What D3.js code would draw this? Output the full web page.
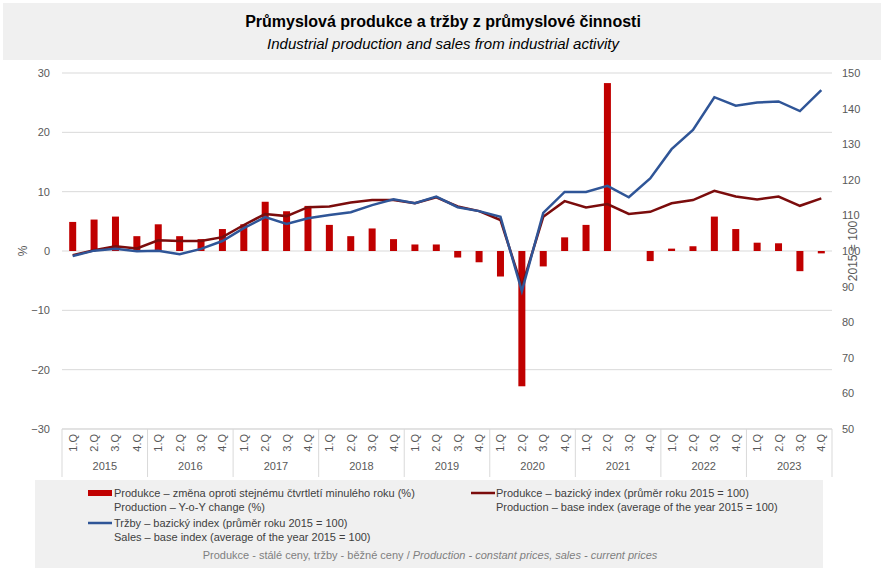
<!DOCTYPE html>
<html lang="cs">
<head>
  <meta charset="UTF-8">
  <title>Průmyslová produkce a tržby</title>
  <script src="https://d3js.org/d3.v7.min.js"></script>
  <style>
    body { margin: 0; background: #fff; font-family: "Liberation Sans", Arial, sans-serif; }
  </style>
</head>
<body>
  <svg id="chart" width="887" height="574"></svg>
  <script>
    const years = ["2015", "2016", "2017", "2018", "2019", "2020", "2021", "2022", "2023"]
    const quarters = ["1.Q", "2.Q", "3.Q", "4.Q"]
    const yoyChange = [4.9, 5.3, 5.8, 2.5, 4.5, 2.5, 2.0, 3.7,
      4.5, 8.3, 6.7, 7.6, 4.4, 2.5, 3.8, 2.0,
      1.1, 1.1, -1.1, -1.9, -4.3, -22.8, -2.6, 2.3,
      4.4, 28.3, 0, -1.7, 0.4, 0.8, 5.8, 3.7,
      1.4, 1.3, -3.4, -0.4]
    const prodIndex = [98.8, 100.2, 101.3, 100.7, 103.0, 102.8, 102.8, 103.9,
      107.3, 110.4, 109.8, 112.3, 112.5, 113.6, 114.3, 114.3,
      113.4, 115.1, 112.5, 111.2, 108.7, 90.0, 109.6, 114.0,
      112.2, 113.2, 110.4, 111.0, 113.4, 114.3, 116.9, 115.3,
      114.5, 115.3, 112.7, 114.8]
    const salesIndex = [98.6, 100.1, 100.6, 99.9, 100.1, 99.1, 100.6, 102.8,
      106.4, 109.5, 107.6, 109.2, 110.1, 110.9, 112.9, 114.5,
      113.4, 115.3, 112.3, 111.2, 109.6, 88.7, 110.7, 116.6,
      116.6, 118.3, 115.1, 120.4, 128.6, 134.0, 143.2, 140.8,
      141.7, 142.0, 139.3, 145.2]

    const cats = []
    years.forEach(y => quarters.forEach(q => cats.push(y + " " + q)))

    const svg = d3.select("#chart")
    const pLeft = 62, pRight = 832, pTop = 73, pBottom = 429

    // title box
    svg.append("rect").attr("x", 3).attr("y", 3).attr("width", 878).attr("height", 57).attr("fill", "#f0f0f0")
    svg.append("text").attr("x", 443).attr("y", 27).attr("text-anchor", "middle")
      .style("font-size", "16px").style("font-weight", "bold").text("Průmyslová produkce a tržby z průmyslové činnosti")
    svg.append("text").attr("x", 443).attr("y", 49).attr("text-anchor", "middle")
      .style("font-size", "15px").style("font-style", "italic").text("Industrial production and sales from industrial activity")

    const x = d3.scaleBand().domain(cats).range([pLeft, pRight])
    const yL = d3.scaleLinear().domain([-30, 30]).range([pBottom, pTop])
    const yR = d3.scaleLinear().domain([50, 150]).range([pBottom, pTop])

    // grid
    svg.append("g").selectAll("line").data(yL.ticks(6)).join("line")
      .attr("x1", pLeft).attr("x2", pRight).attr("y1", d => yL(d)).attr("y2", d => yL(d))
      .attr("stroke", "#d9d9d9").attr("stroke-width", 1)

    const axL = svg.append("g").attr("transform", "translate(" + pLeft + ",0)")
      .call(d3.axisLeft(yL).ticks(6).tickSize(0).tickPadding(12))
    axL.select(".domain").remove()
    axL.selectAll("text").style("font-size", "11px").attr("fill", "#595959").style("font-family", "Liberation Sans, Arial")

    const axR = svg.append("g").attr("transform", "translate(" + pRight + ",0)")
      .call(d3.axisRight(yR).ticks(10).tickSize(0).tickPadding(10))
    axR.select(".domain").remove()
    axR.selectAll("text").style("font-size", "11px").attr("fill", "#595959").style("font-family", "Liberation Sans, Arial")

    svg.append("text").attr("transform", "translate(27,251) rotate(-90)").attr("text-anchor", "middle")
      .style("font-size", "12px").attr("fill", "#595959").text("%")
    svg.append("text").attr("transform", "translate(857,251) rotate(-90)").attr("text-anchor", "middle")
      .style("font-size", "12px").attr("fill", "#595959").text("2015 = 100")

    // bars
    const bw = 7
    svg.append("g").selectAll("rect").data(yoyChange).join("rect")
      .attr("x", (d, i) => x(cats[i]) + x.bandwidth() / 2 - bw / 2)
      .attr("width", bw)
      .attr("y", d => yL(Math.max(0, d)))
      .attr("height", d => Math.abs(yL(d) - yL(0)))
      .attr("fill", "#c00000")

    const line = d3.line().x((d, i) => x(cats[i]) + x.bandwidth() / 2).y(d => yR(d))
    svg.append("path").datum(prodIndex).attr("fill", "none").attr("stroke", "#7b0c0c")
      .attr("stroke-width", 2.5).attr("d", line)
    svg.append("path").datum(salesIndex).attr("fill", "none").attr("stroke", "#2f5597")
      .attr("stroke-width", 2.5).attr("d", line)

    // category axis
    const cat = svg.append("g")
    cat.append("line").attr("x1", pLeft).attr("x2", pRight).attr("y1", pBottom).attr("y2", pBottom).attr("stroke", "#d9d9d9")
    cat.selectAll(".q").data(cats).join("text")
      .attr("transform", d => "translate(" + (x(d) + x.bandwidth() / 2 + 4) + "," + (pBottom + 5) + ") rotate(-90)")
      .attr("text-anchor", "end").style("font-size", "11px").attr("fill", "#595959")
      .text(d => d.split(" ")[1])
    const yearW = x.bandwidth() * 4
    cat.selectAll(".y").data(years).join("text")
      .attr("x", (d, i) => pLeft + yearW * i + yearW / 2).attr("y", 470)
      .attr("text-anchor", "middle").style("font-size", "11px").attr("fill", "#595959").text(d => d)
    cat.selectAll(".sep").data(d3.range(years.length + 1)).join("line")
      .attr("x1", i => pLeft + yearW * i).attr("x2", i => pLeft + yearW * i)
      .attr("y1", pBottom).attr("y2", 477).attr("stroke", "#d9d9d9")

    // legend
    const lg = svg.append("g")
    lg.append("rect").attr("x", 35).attr("y", 480).attr("width", 788).attr("height", 88).attr("fill", "#f0f0f0")
    const fs = "11px", tc = "#404040"
    lg.append("rect").attr("x", 88).attr("y", 490).attr("width", 24).attr("height", 6).attr("fill", "#c00000")
    lg.append("text").attr("x", 114).attr("y", 497).style("font-size", fs).attr("fill", tc)
      .text("Produkce – změna oproti stejnému čtvrtletí minulého roku (%)")
    lg.append("text").attr("x", 114).attr("y", 511).style("font-size", fs).attr("fill", tc)
      .text("Production – Y-o-Y change (%)")
    lg.append("line").attr("x1", 471).attr("x2", 495).attr("y1", 493).attr("y2", 493).attr("stroke", "#7b0c0c").attr("stroke-width", 2.5)
    lg.append("text").attr("x", 496).attr("y", 497).style("font-size", fs).attr("fill", tc)
      .text("Produkce – bazický index (průměr roku 2015 = 100)")
    lg.append("text").attr("x", 496).attr("y", 511).style("font-size", fs).attr("fill", tc)
      .text("Production – base index (average of the year 2015 = 100)")
    lg.append("line").attr("x1", 88).attr("x2", 112).attr("y1", 523).attr("y2", 523).attr("stroke", "#2f5597").attr("stroke-width", 2.5)
    lg.append("text").attr("x", 114).attr("y", 527).style("font-size", fs).attr("fill", tc)
      .text("Tržby – bazický index (průměr roku 2015 = 100)")
    lg.append("text").attr("x", 114).attr("y", 541).style("font-size", fs).attr("fill", tc)
      .text("Sales – base index (average of the year 2015 = 100)")
    const note = lg.append("text").attr("x", 430).attr("y", 559).attr("text-anchor", "middle")
      .style("font-size", fs).attr("fill", "#7f7f7f")
    note.append("tspan").text("Produkce - stálé ceny, tržby - běžné ceny / ")
    note.append("tspan").style("font-style", "italic").text("Production - constant prices, sales - current prices")
  </script>
</body>
</html>
